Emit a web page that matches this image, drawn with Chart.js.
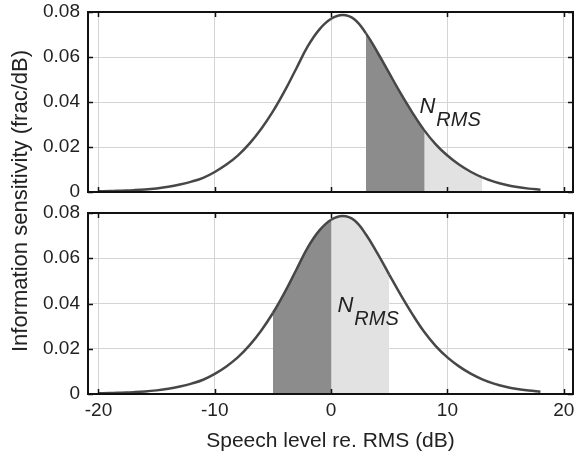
<!DOCTYPE html>
<html lang="en">
<head>
  <meta charset="UTF-8" />
  <title>Information sensitivity</title>
  <script src="https://cdn.jsdelivr.net/npm/chart.js"></script>
  <style>
    body { margin: 0; background: #fff; font-family: 'Liberation Sans', Arial, sans-serif; }
    #wrap { position: relative; width: 575px; height: 454px; overflow: hidden; }
    canvas { position: absolute; left: 0; }
    #ylab {
      position: absolute; left: 20px; top: 201px;
      transform: translate(-50%, -50%) rotate(-90deg);
      white-space: nowrap; font-size: 22px; color: #222;
    }
  </style>
</head>
<body>
  <div id="wrap">
    <canvas id="top" width="575" height="205" style="top:0"></canvas>
    <canvas id="bottom" width="575" height="254" style="top:200px"></canvas>
    <div id="ylab">Information sensitivity (frac/dB)</div>
  </div>
  <script>
    // speech level (dB re RMS) and sensitivity (frac/dB)
    const levels = [-20, -19, -18, -17, -16, -15, -14, -13, -12, -11, -10, -9, -8, -7, -6, -5, -4, -3, -2, -1,
                    0, 1, 2, 3, 4, 5, 6, 7, 8, 9, 10, 11, 12, 13, 14, 15, 16, 17, 18];
    const sensitivity = [0.0003, 0.0004, 0.0006, 0.0008, 0.0011, 0.0016, 0.0023, 0.0033, 0.0046, 0.0063,
                         0.0089, 0.0122, 0.0163, 0.0216, 0.0281, 0.0358, 0.0448, 0.0548, 0.0648, 0.0723,
                         0.0770, 0.0787, 0.0768, 0.0705, 0.0620, 0.0528, 0.0437, 0.0352, 0.0275, 0.0212,
                         0.0162, 0.0122, 0.0090, 0.0065, 0.0046, 0.0032, 0.0022, 0.0015, 0.0010];
    const xTicks = [-20, -10, 0, 10, 20];
    const yTicks = [0, 0.02, 0.04, 0.06, 0.08];

    // shaded bands: [darkFrom, split, lightTo]
    const topBand = [3, 8, 13];
    const bottomBand = [-5, 0, 5];

    const DARK = '#8c8c8c', LIGHT = '#e2e2e2', CURVE = '#474747';
    const FAMILY = "'Liberation Sans', Arial, sans-serif";

    const valueAt = x => sensitivity[levels.indexOf(x)];

    const noPad = s => { s.paddingTop = s.paddingBottom = s.paddingLeft = s.paddingRight = 0; };

    const frame = {
      id: 'frame',
      afterDraw(chart) {
        const { ctx, chartArea: a, scales } = chart;
        ctx.save();
        ctx.strokeStyle = '#111';
        ctx.lineWidth = 1.5;
        ctx.beginPath();
        xTicks.forEach(v => {
          const px = Math.round(scales.x.getPixelForValue(v)) + 0.5;
          ctx.moveTo(px, a.top); ctx.lineTo(px, a.top + 5);
          ctx.moveTo(px, a.bottom); ctx.lineTo(px, a.bottom - 5);
        });
        yTicks.forEach(v => {
          const py = Math.round(scales.y.getPixelForValue(v)) + 0.5;
          ctx.moveTo(a.left, py); ctx.lineTo(a.left + 5, py);
          ctx.moveTo(a.right, py); ctx.lineTo(a.right - 5, py);
        });
        ctx.stroke();
        ctx.lineWidth = 2;
        ctx.strokeRect(a.left, a.top, a.right - a.left, a.bottom - a.top);

        const lab = chart.options.plugins.frame.label;
        const nx = scales.x.getPixelForValue(lab[0]);
        const ny = scales.y.getPixelForValue(lab[1]);
        ctx.fillStyle = '#222';
        ctx.textBaseline = 'alphabetic';
        ctx.font = 'italic 22px ' + FAMILY;
        ctx.fillText('N', nx, ny);
        const w = ctx.measureText('N').width;
        ctx.font = 'italic 20px ' + FAMILY;
        ctx.fillText('RMS', nx + w + 1, ny + 13);
        ctx.restore();
      }
    };

    function makeChart(id, band, label, isBottom) {
      const curve = levels.map((x, i) => ({ x, y: sensitivity[i] }));
      const split = [{ x: band[1], y: 0 }, { x: band[1], y: valueAt(band[1]) }];
      return new Chart(document.getElementById(id), {
        type: 'line',
        data: {
          datasets: [
            {
              data: curve,
              borderColor: CURVE,
              borderWidth: 2.5,
              pointRadius: 0,
              tension: 0.4,
              fill: 'origin',
              backgroundColor: 'rgba(0,0,0,0)',
              segment: {
                backgroundColor: c => {
                  const x = c.p0.parsed.x;
                  if (x >= band[0] && x < band[1]) return DARK;
                  if (x >= band[1] && x < band[2]) return LIGHT;
                  return 'rgba(0,0,0,0)';
                }
              },
              order: 1
            },
            {
              data: split,
              borderColor: '#444',
              borderWidth: 1.5,
              pointRadius: 0,
              fill: false,
              order: 2
            }
          ]
        },
        options: {
          responsive: false,
          animation: false,
          layout: { padding: isBottom ? { top: 13, right: 2, bottom: 0, left: 0 } : { top: 12, right: 2, bottom: 13, left: 0 } },
          plugins: { legend: { display: false }, tooltip: { enabled: false }, frame: { label } },
          scales: {
            x: {
              type: 'linear',
              min: -20.9,
              max: 20.8,
              afterBuildTicks: s => { s.ticks = xTicks.map(v => ({ value: v })); },
              afterFit: s => { s.height = isBottom ? 60 : 0; noPad(s); },
              grid: { color: '#d4d4d4', drawTicks: false },
              border: { display: false },
              ticks: { display: isBottom, color: '#222', font: { family: FAMILY, size: 19 }, padding: 5, maxRotation: 0 },
              title: { display: isBottom, text: 'Speech level re. RMS (dB)', color: '#222', font: { family: FAMILY, size: 21 }, padding: { top: 0, bottom: 0 } }
            },
            y: {
              min: 0,
              max: 0.08,
              afterBuildTicks: s => { s.ticks = yTicks.map(v => ({ value: v })); },
              afterFit: s => { s.width = 88; noPad(s); },
              grid: { color: '#d4d4d4', drawTicks: false },
              border: { display: false },
              ticks: { color: '#222', font: { family: FAMILY, size: 19 }, padding: 8 }
            }
          }
        },
        plugins: [frame]
      });
    }

    makeChart('top', topBand, [7.6, 0.035], false);
    makeChart('bottom', bottomBand, [0.55, 0.0362], true);
  </script>
</body>
</html>
